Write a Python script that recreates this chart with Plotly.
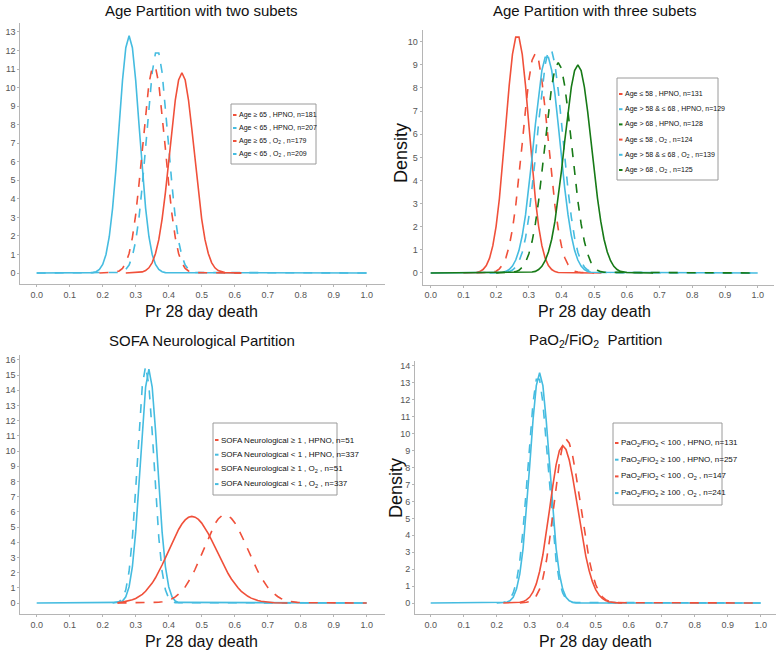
import plotly.graph_objects as go

# ---------------- data (density values on a 0.01 grid of Pr 28 day death) ----------------
GRID_STEP = 0.01
x_ticks = [0.0, 0.1, 0.2, 0.3, 0.4, 0.5, 0.6, 0.7, 0.8, 0.9, 1.0]
x_tick_labels = ["0.0", "0.1", "0.2", "0.3", "0.4", "0.5", "0.6", "0.7", "0.8", "0.9", "1.0"]
x_title = "Pr 28 day death"
y_title = "Density"
panel_titles = ["Age Partition with two subets", "Age Partition with three subets",
                "SOFA Neurological Partition", "PaO<sub>2</sub>/FiO<sub>2</sub>  Partition"]

# Panel 1: Age partition with two subsets
p1_ge65_hpno_x0 = 0.31
p1_ge65_hpno = [0.02, 0.06, 0.13, 0.28, 0.56, 1.05, 1.80, 2.91, 4.34, 6.03, 7.78, 9.33, 10.41, 10.8,
                10.41, 9.33, 7.78, 6.03, 4.34, 2.91, 1.80, 1.05, 0.56, 0.28, 0.13, 0.06, 0.02]
p1_lt65_hpno_x0 = 0.17
p1_lt65_hpno = [0.02, 0.07, 0.19, 0.46, 1.00, 1.97, 3.50, 5.57, 8.01, 10.39, 12.15, 12.8,
                12.15, 10.39, 8.01, 5.57, 3.50, 1.97, 1.00, 0.46, 0.19, 0.07, 0.02]
p1_ge65_o2_x0 = 0.23
p1_ge65_o2 = [0.02, 0.05, 0.11, 0.25, 0.54, 1.05, 1.91, 3.15, 4.80, 6.71, 8.63, 10.21, 11.10,
              11.10, 10.21, 8.63, 6.71, 4.80, 3.15, 1.91, 1.05, 0.54, 0.25, 0.11, 0.05, 0.02]
p1_lt65_o2_x0 = 0.25
p1_lt65_o2 = [0.03, 0.08, 0.19, 0.43, 0.91, 1.73, 2.99, 4.73, 6.84, 9.00, 10.82, 11.87,
              11.87, 10.82, 9.00, 6.84, 4.73, 2.99, 1.73, 0.91, 0.43, 0.19, 0.08, 0.03]

# Panel 2: Age partition with three subsets
p2_le58_hpno_x0 = 0.14
p2_le58_hpno = [0.02, 0.06, 0.15, 0.32, 0.64, 1.18, 2.02, 3.21, 4.71, 6.43, 8.10, 9.45, 10.20,
                10.20, 9.45, 8.10, 6.43, 4.71, 3.21, 2.02, 1.18, 0.64, 0.32, 0.15, 0.06, 0.02]
p2_mid_hpno_x0 = 0.22
p2_mid_hpno = [0.03, 0.07, 0.15, 0.30, 0.56, 0.98, 1.62, 2.51, 3.65, 4.99, 6.41, 7.73, 8.76, 9.33,
               9.33, 8.76, 7.73, 6.41, 4.99, 3.65, 2.51, 1.62, 0.98, 0.56, 0.30, 0.15, 0.07, 0.03]
p2_gt68_hpno_x0 = 0.30
p2_gt68_hpno = [0.02, 0.04, 0.07, 0.15, 0.29, 0.53, 0.91, 1.46, 2.24, 3.24, 4.43, 5.72, 6.98, 8.04, 8.75,
                9.0, 8.75, 8.04, 6.98, 5.72, 4.43, 3.24, 2.24, 1.46, 0.91, 0.53, 0.29, 0.15, 0.07, 0.04, 0.02]
p2_le58_o2_x0 = 0.18
p2_le58_o2 = [0.02, 0.04, 0.08, 0.18, 0.36, 0.66, 1.16, 1.90, 2.91, 4.18, 5.61, 7.07, 8.33, 9.20,
              9.5, 9.20, 8.33, 7.07, 5.61, 4.18, 2.91, 1.90, 1.16, 0.66, 0.36, 0.18, 0.08, 0.04, 0.02]
p2_mid_o2_x0 = 0.23
p2_mid_o2 = [0.02, 0.06, 0.13, 0.26, 0.50, 0.90, 1.52, 2.42, 3.59, 4.99, 6.49, 7.90, 9.01, 9.62,
             9.62, 9.01, 7.90, 6.49, 4.99, 3.59, 2.42, 1.52, 0.90, 0.50, 0.26, 0.13, 0.06, 0.02]
p2_gt68_o2_x0 = 0.25
p2_gt68_o2 = [0.03, 0.06, 0.12, 0.25, 0.46, 0.82, 1.36, 2.12, 3.12, 4.32, 5.65, 6.96, 8.08, 8.84,
              9.1, 8.84, 8.08, 6.96, 5.65, 4.32, 3.12, 2.12, 1.36, 0.82, 0.46, 0.25, 0.12, 0.06, 0.03]

# Panel 3: SOFA neurological partition
p3_ge1_hpno_x0 = 0.25
p3_ge1_hpno = [0.04, 0.06, 0.10, 0.14, 0.21, 0.30, 0.42, 0.57, 0.77, 1.01, 1.31, 1.66, 2.05, 2.50,
               2.97, 3.46, 3.95, 4.42, 4.84, 5.20, 5.47, 5.64, 5.7,
               5.65, 5.50, 5.26, 4.95, 4.57, 4.14, 3.69, 3.23, 2.78, 2.34, 1.94, 1.58, 1.27, 1.00,
               0.77, 0.59, 0.44, 0.32, 0.23, 0.16, 0.11, 0.08, 0.05, 0.03, 0.02]
p3_lt1_hpno_x0 = 0.25
p3_lt1_hpno = [0.04, 0.13, 0.41, 1.07, 2.40, 4.68, 7.86, 11.38, 14.21, 15.4,
               14.21, 11.38, 7.86, 4.68, 2.40, 1.07, 0.41, 0.13, 0.04]
p3_ge1_o2_x0 = 0.34
p3_ge1_o2 = [0.01, 0.02, 0.03, 0.05, 0.08, 0.13, 0.19, 0.28, 0.40, 0.57, 0.78, 1.06, 1.39, 1.77,
             2.22, 2.72, 3.25, 3.79, 4.32, 4.80, 5.21, 5.53, 5.73, 5.8,
             5.74, 5.57, 5.29, 4.92, 4.50, 4.02, 3.52, 3.02, 2.54, 2.09, 1.69, 1.33, 1.03, 0.78,
             0.59, 0.43, 0.30, 0.21, 0.15, 0.10, 0.06, 0.04, 0.03, 0.02]
p3_lt1_o2_x0 = 0.24
p3_lt1_o2 = [0.02, 0.09, 0.31, 0.87, 2.09, 4.31, 7.55, 11.25, 14.31, 15.6,
             14.31, 11.25, 7.55, 4.31, 2.09, 0.87, 0.31, 0.09, 0.02]

# Panel 4: PaO2/FiO2 partition
p4_lt100_hpno_x0 = 0.26
p4_lt100_hpno = [0.02, 0.04, 0.08, 0.18, 0.35, 0.65, 1.13, 1.86, 2.85, 4.09, 5.50, 6.92, 8.16, 9.00,
                 9.3, 9.07, 8.43, 7.45, 6.27, 5.01, 3.82, 2.77, 1.92, 1.26, 0.79, 0.47, 0.27, 0.14,
                 0.07, 0.04, 0.02]
p4_ge100_hpno_x0 = 0.22
p4_ge100_hpno = [0.01, 0.04, 0.13, 0.34, 0.82, 1.72, 3.23, 5.43, 8.10, 10.80, 12.84, 13.6,
                 12.84, 10.80, 8.10, 5.43, 3.23, 1.72, 0.82, 0.34, 0.13, 0.04, 0.01]
p4_lt100_o2_x0 = 0.28
p4_lt100_o2 = [0.01, 0.04, 0.09, 0.20, 0.43, 0.82, 1.46, 2.42, 3.70, 5.23, 6.86, 8.31, 9.33, 9.7,
               9.44, 8.71, 7.60, 6.30, 4.93, 3.67, 2.58, 1.72, 1.09, 0.65, 0.37, 0.20, 0.10, 0.05, 0.02]
p4_ge100_o2_x0 = 0.22
p4_ge100_o2 = [0.03, 0.09, 0.24, 0.59, 1.28, 2.49, 4.36, 6.78, 9.47, 11.82, 13.21,
               13.21, 11.82, 9.47, 6.78, 4.36, 2.49, 1.28, 0.59, 0.24, 0.09, 0.03]

# legend labels
p1_labels = ["Age \u2265 65 , HPNO, n=181", "Age < 65 , HPNO, n=207",
             "Age \u2265 65 , O<sub>2</sub> , n=179", "Age < 65 , O<sub>2</sub> , n=209"]
p2_labels = ["Age \u2264 58 , HPNO, n=131", "Age > 58 & \u2264 68 , HPNO, n=129", "Age > 68 , HPNO, n=128",
             "Age \u2264 58 , O<sub>2</sub> , n=124", "Age > 58 & \u2264 68 , O<sub>2</sub> , n=139",
             "Age > 68 , O<sub>2</sub> , n=125"]
p3_labels = ["SOFA Neurological \u2265 1 , HPNO, n=51", "SOFA Neurological < 1 , HPNO, n=337",
             "SOFA Neurological \u2265 1 , O<sub>2</sub> , n=51", "SOFA Neurological < 1 , O<sub>2</sub> , n=337"]
p4_labels = ["PaO<sub>2</sub>/FiO<sub>2</sub> < 100 , HPNO, n=131",
             "PaO<sub>2</sub>/FiO<sub>2</sub> \u2265 100 , HPNO, n=257",
             "PaO<sub>2</sub>/FiO<sub>2</sub> < 100 , O<sub>2</sub> , n=147",
             "PaO<sub>2</sub>/FiO<sub>2</sub> \u2265 100 , O<sub>2</sub> , n=241"]

# ---------------- styling ----------------
W, H = 777, 653
RED = "#F0503A"
BLUE = "#45BCE0"
GREEN = "#177A17"
FONT = "Liberation Sans, Arial, sans-serif"
AXC = "#b5b5b5"


def fx(p):
    return p / W


def fy(p):
    return 1 - p / H


# panel geometry in pixels: x pixel of data 0, px per unit x, y pixel of data 0, px per unit y
panels = [
    dict(x0=36.7, xs=330.0, y0=273.0, ys=18.54, xr=[-0.05, 1.055], yr=[-0.6, 13.5], ymax=13, title_y=11, xt_y=312),
    dict(x0=430.7, xs=327.0, y0=273.0, ys=23.13, xr=[-0.025, 1.05], yr=[-0.5, 10.5], ymax=10, title_y=11, xt_y=312),
    dict(x0=36.7, xs=330.0, y0=603.0, ys=15.19, xr=[-0.05, 1.055], yr=[-0.72, 16.3], ymax=16, title_y=340, xt_y=641),
    dict(x0=430.7, xs=330.0, y0=603.0, ys=16.93, xr=[-0.0476, 1.0475], yr=[-0.65, 14.3], ymax=14, title_y=340, xt_y=641),
]

# each trace: (panel index, name, x0, values, colour, dash, draw span lo, draw span hi) in draw order
traces = [
    (0, "Age<65 O2", p1_lt65_o2_x0, p1_lt65_o2, BLUE, "dash", 0.0, 1.0),
    (0, "Age<65 HPNO", p1_lt65_hpno_x0, p1_lt65_hpno, BLUE, "solid", 0.0, 1.0),
    (0, "Age>=65 HPNO", p1_ge65_hpno_x0, p1_ge65_hpno, RED, "solid", 0.27, 0.62),
    (0, "Age>=65 O2", p1_ge65_o2_x0, p1_ge65_o2, RED, "dash", 0.19, 0.62),

    (1, "Age<=58 HPNO", p2_le58_hpno_x0, p2_le58_hpno, RED, "solid", 0.10, 0.50),
    (1, "Age<=58 O2", p2_le58_o2_x0, p2_le58_o2, RED, "dash", 0.14, 0.55),
    (1, "Age 58-68 HPNO", p2_mid_hpno_x0, p2_mid_hpno, BLUE, "solid", 0.0, 1.0),
    (1, "Age 58-68 O2", p2_mid_o2_x0, p2_mid_o2, BLUE, "dash", 0.18, 1.0),
    (1, "Age>68 O2", p2_gt68_o2_x0, p2_gt68_o2, GREEN, "dash", 0.2, 1.0),
    (1, "Age>68 HPNO", p2_gt68_hpno_x0, p2_gt68_hpno, GREEN, "solid", 0.0, 0.68),

    (2, "SOFA<1 O2", p3_lt1_o2_x0, p3_lt1_o2, BLUE, "dash", 0.23, 1.0),
    (2, "SOFA<1 HPNO", p3_lt1_hpno_x0, p3_lt1_hpno, BLUE, "solid", 0.0, 1.0),
    (2, "SOFA>=1 HPNO", p3_ge1_hpno_x0, p3_ge1_hpno, RED, "solid", 0.245, 0.76),
    (2, "SOFA>=1 O2", p3_ge1_o2_x0, p3_ge1_o2, RED, "dash", 0.245, 1.0),

    (3, "PF>=100 O2", p4_ge100_o2_x0, p4_ge100_o2, BLUE, "dash", 0.2, 1.0),
    (3, "PF>=100 HPNO", p4_ge100_hpno_x0, p4_ge100_hpno, BLUE, "solid", 0.0, 1.0),
    (3, "PF<100 HPNO", p4_lt100_hpno_x0, p4_lt100_hpno, RED, "solid", 0.22, 0.58),
    (3, "PF<100 O2", p4_lt100_o2_x0, p4_lt100_o2, RED, "dash", 0.27, 1.0),
]

fig = go.Figure()
for pi, name, x0, vals, col, dash, lo, hi in traces:
    xs = [lo] + [round(x0 + i * GRID_STEP, 2) for i in range(len(vals))] + [hi]
    ys = [0.0] + list(vals) + [0.0]
    sfx = "" if pi == 0 else str(pi + 1)
    fig.add_trace(go.Scatter(x=xs, y=ys, mode="lines", name=name, showlegend=False,
                             line=dict(color=col, width=1.6, dash=dash),
                             xaxis="x" + sfx, yaxis="y" + sfx, hoverinfo="skip"))

layout = dict(width=W, height=H, margin=dict(l=0, r=0, t=0, b=0),
              paper_bgcolor="white", plot_bgcolor="white", showlegend=False,
              font=dict(family=FONT))
annotations = []
shapes = []
for i, p in enumerate(panels):
    sfx = "" if i == 0 else str(i + 1)
    xd = [fx(p["x0"] + p["xr"][0] * p["xs"]), fx(p["x0"] + p["xr"][1] * p["xs"])]
    yd = [fy(p["y0"] - p["yr"][0] * p["ys"]), fy(p["y0"] - p["yr"][1] * p["ys"])]
    layout["xaxis" + sfx] = dict(domain=xd, range=p["xr"], anchor="y" + sfx, tickvals=x_ticks,
                                 ticktext=x_tick_labels, showline=True, linecolor=AXC, linewidth=1,
                                 ticks="outside", ticklen=2, tickcolor=AXC, showgrid=False, zeroline=False,
                                 tickfont=dict(family=FONT, size=9, color="#555"), fixedrange=True)
    layout["yaxis" + sfx] = dict(domain=yd, range=p["yr"], anchor="x" + sfx,
                                 tickvals=list(range(0, p["ymax"] + 1)),
                                 showline=True, linecolor=AXC, linewidth=1, ticks="outside", ticklen=2,
                                 tickcolor=AXC, showgrid=False, zeroline=False,
                                 tickfont=dict(family=FONT, size=9, color="#555"), fixedrange=True)
    cx = p["x0"] + 0.5 * p["xs"]
    annotations.append(dict(text=panel_titles[i], x=fx(cx), y=fy(p["title_y"]), xref="paper", yref="paper",
                            xanchor="center", yanchor="middle", showarrow=False,
                            font=dict(family=FONT, size=15, color="#111")))
    annotations.append(dict(text=x_title, x=fx(cx), y=fy(p["xt_y"]), xref="paper", yref="paper",
                            xanchor="center", yanchor="middle", showarrow=False,
                            font=dict(family=FONT, size=16, color="#111")))

# y titles (visible on right-hand panels)
for (xp, yp) in [(401, 153), (396, 488)]:
    annotations.append(dict(text=y_title, x=fx(xp), y=fy(yp), xref="paper", yref="paper", textangle=-90,
                            xanchor="center", yanchor="middle", showarrow=False,
                            font=dict(family=FONT, size=18, color="#111")))


def add_legend(box, labels, colors, first_y, step, mx, tx, size):
    x0, y0, x1, y1 = box
    shapes.append(dict(type="rect", xref="paper", yref="paper", x0=fx(x0), x1=fx(x1), y0=fy(y1), y1=fy(y0),
                       line=dict(color="#9a9a9a", width=1), fillcolor="white", layer="above"))
    for k, (lab, col) in enumerate(zip(labels, colors)):
        yy = first_y + k * step
        shapes.append(dict(type="line", xref="paper", yref="paper", x0=fx(mx), x1=fx(mx + 3.5),
                           y0=fy(yy), y1=fy(yy), line=dict(color=col, width=2), layer="above"))
        annotations.append(dict(text=lab, x=fx(tx), y=fy(yy), xref="paper", yref="paper",
                                xanchor="left", yanchor="middle", showarrow=False,
                                font=dict(family=FONT, size=size, color="#111")))


add_legend((231, 104, 316, 164), p1_labels, [RED, BLUE, RED, BLUE], 115, 13, 233, 237, 7)
add_legend((617, 78, 718, 180), p2_labels, [RED, BLUE, GREEN, RED, BLUE, GREEN], 94, 15.2, 619, 623, 7)
add_legend((213, 423, 337, 495), p3_labels, [RED, BLUE, RED, BLUE], 440, 14.7, 215, 219, 8)
add_legend((613, 423, 722, 505), p4_labels, [RED, BLUE, RED, BLUE], 443, 16.7, 615, 619, 8)

layout["annotations"] = annotations
layout["shapes"] = shapes
fig.update_layout(**layout)
# the page body has a default 8px margin; remove it so the figure fills the window exactly
fig.write_html("out.html", config={"displayModeBar": False},
               post_script="document.body.style.margin='0';")
